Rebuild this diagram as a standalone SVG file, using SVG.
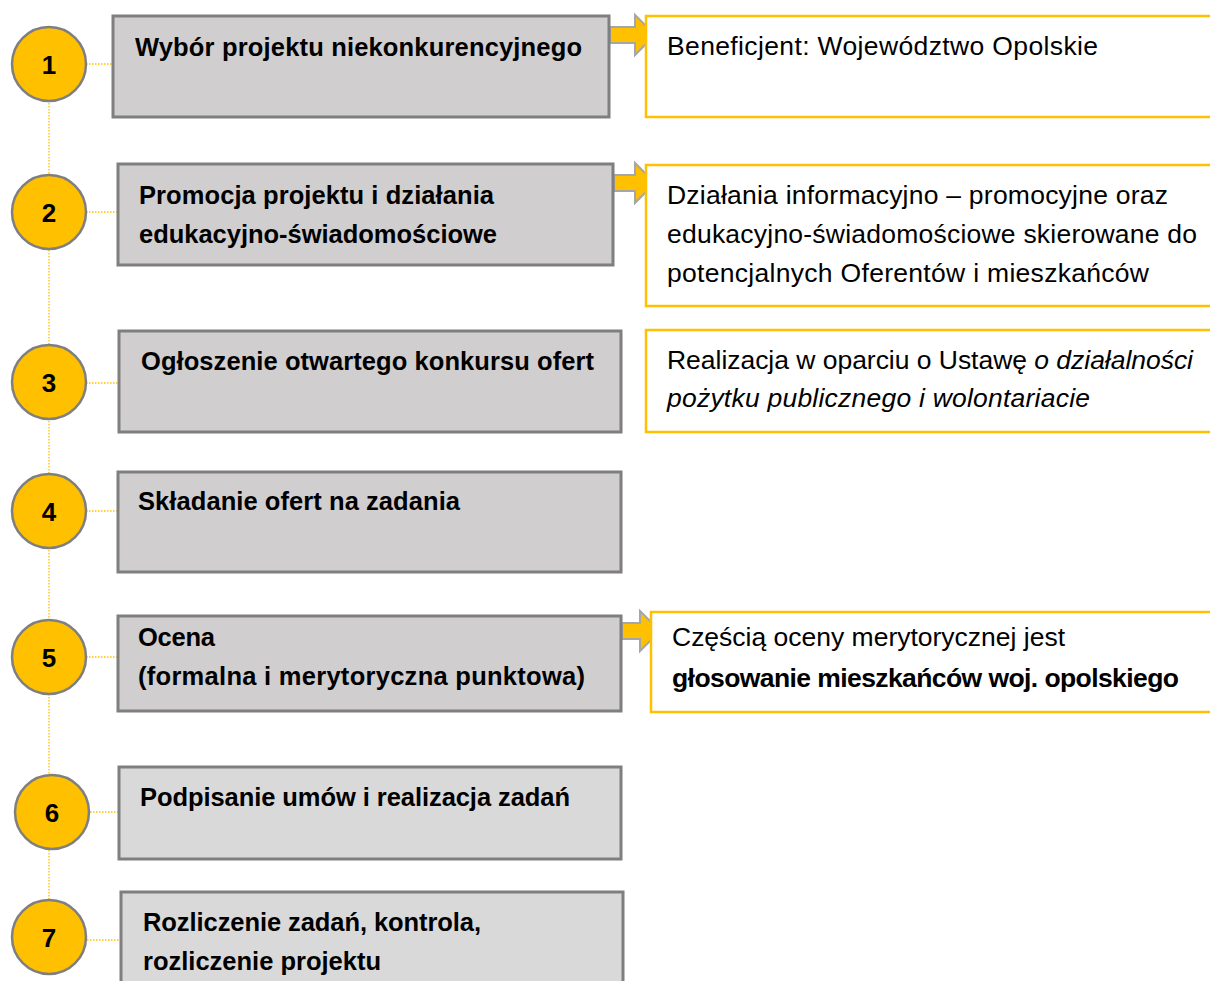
<svg xmlns="http://www.w3.org/2000/svg" width="1210" height="981" viewBox="0 0 1210 981">
<style>
.step{fill:#d0cece;stroke:#7f7f7f;stroke-width:3}
.note{fill:#fff;stroke:#ffc000;stroke-width:2.5}
.num{fill:#ffc000;stroke:#7f7f7f;stroke-width:2.5}
.dot{stroke:#ffc000;stroke-width:1.3;stroke-dasharray:1.5 1.5;fill:none}
.arr{fill:#ffc000;stroke:#a6a6a6;stroke-width:2}
.b{font-family:"Liberation Sans",Arial,sans-serif;font-weight:bold;font-size:25.5px;fill:#000}
.r{font-family:"Liberation Sans",Arial,sans-serif;font-size:26.5px;fill:#000}
.n{font-family:"Liberation Sans",Arial,sans-serif;font-weight:bold;font-size:26px;fill:#000;text-anchor:middle}
</style>
<rect width="1210" height="981" fill="#fff"/>
<g id="connectors">
<line class="dot" x1="49" y1="100" x2="49" y2="900"/>
<line class="dot" x1="86" y1="64" x2="113" y2="64"/>
<line class="dot" x1="86" y1="212" x2="118" y2="212"/>
<line class="dot" x1="86" y1="383" x2="119" y2="383"/>
<line class="dot" x1="86" y1="511" x2="118" y2="511"/>
<line class="dot" x1="86" y1="657" x2="118" y2="657"/>
<line class="dot" x1="90" y1="812" x2="119" y2="812"/>
<line class="dot" x1="87" y1="940" x2="121" y2="940"/>
<path class="arr" d="M610,27 H635 V15 L655,35 L635,55 V43 H610 Z"/>
<path class="arr" d="M614,175 H635 V163 L655,183 L635,203 V191 H614 Z"/>
<path class="arr" d="M622,623 H640 V611 L660,631 L640,651 V639 H622 Z"/>
</g>
<g id="step1">
<rect class="step" x="113" y="16" width="496" height="101"/>
<text class="b" x="135" y="56" textLength="447">Wybór projektu niekonkurencyjnego</text>
</g>
<g id="num1"><circle class="num" cx="49" cy="64" r="37"/><text class="n" x="49" y="74">1</text></g>
<g id="step2">
<rect class="step" x="118" y="164" width="495" height="101"/>
<text class="b" x="139" y="204" textLength="355">Promocja projektu i działania</text>
<text class="b" x="139" y="243" textLength="358">edukacyjno-świadomościowe</text>
</g>
<g id="num2"><circle class="num" cx="49" cy="212" r="37"/><text class="n" x="49" y="222">2</text></g>
<g id="step3">
<rect class="step" x="119" y="331" width="502" height="101"/>
<text class="b" x="141" y="370" textLength="453">Ogłoszenie otwartego konkursu ofert</text>
</g>
<g id="num3"><circle class="num" cx="49" cy="382" r="37"/><text class="n" x="49" y="392">3</text></g>
<g id="step4">
<rect class="step" x="118" y="472" width="503" height="100"/>
<text class="b" x="138" y="510" textLength="322">Składanie ofert na zadania</text>
</g>
<g id="num4"><circle class="num" cx="49" cy="511" r="37"/><text class="n" x="49" y="521">4</text></g>
<g id="step5">
<rect class="step" x="118" y="616" width="503" height="95"/>
<text class="b" x="138" y="646" textLength="77">Ocena</text>
<text class="b" x="138" y="685" textLength="447">(formalna i merytoryczna punktowa)</text>
</g>
<g id="num5"><circle class="num" cx="49" cy="657" r="37"/><text class="n" x="49" y="667">5</text></g>
<g id="step6">
<rect class="step" x="119" y="767" width="502" height="92" style="fill:#d9d9d9"/>
<text class="b" x="140" y="806" textLength="430">Podpisanie umów i realizacja zadań</text>
</g>
<g id="num6"><circle class="num" cx="52" cy="812" r="37"/><text class="n" x="52" y="822">6</text></g>
<g id="step7">
<rect class="step" x="121" y="892" width="502" height="100" style="fill:#d9d9d9"/>
<text class="b" x="143" y="931" textLength="338">Rozliczenie zadań, kontrola,</text>
<text class="b" x="143" y="970" textLength="238">rozliczenie projektu</text>
</g>
<g id="num7"><circle class="num" cx="49" cy="937" r="37"/><text class="n" x="49" y="947">7</text></g>
<g id="noteA">
<rect class="note" x="646" y="16" width="580" height="101"/>
<text class="r" x="667" y="55" textLength="431">Beneficjent: Województwo Opolskie</text>
</g>
<g id="noteB">
<rect class="note" x="646" y="165" width="580" height="141"/>
<text class="r" x="667" y="204" textLength="501">Działania informacyjno – promocyjne oraz</text>
<text class="r" x="667" y="243" textLength="530">edukacyjno-świadomościowe skierowane do</text>
<text class="r" x="667" y="282" textLength="482">potencjalnych Oferentów i mieszkańców</text>
</g>
<g id="noteC">
<rect class="note" x="646" y="330" width="580" height="102"/>
<text class="r" x="667" y="369" textLength="526">Realizacja w oparciu o Ustawę <tspan font-style="italic">o działalności</tspan></text>
<text class="r" x="667" y="407" font-style="italic" textLength="423">pożytku publicznego i wolontariacie</text>
</g>
<g id="noteD">
<rect class="note" x="651" y="612" width="580" height="100"/>
<text class="r" x="672" y="646" textLength="393">Częścią oceny merytorycznej jest</text>
<text class="r" x="672" y="687" font-weight="bold" textLength="507">głosowanie mieszkańców woj. opolskiego</text>
</g>
</svg>
